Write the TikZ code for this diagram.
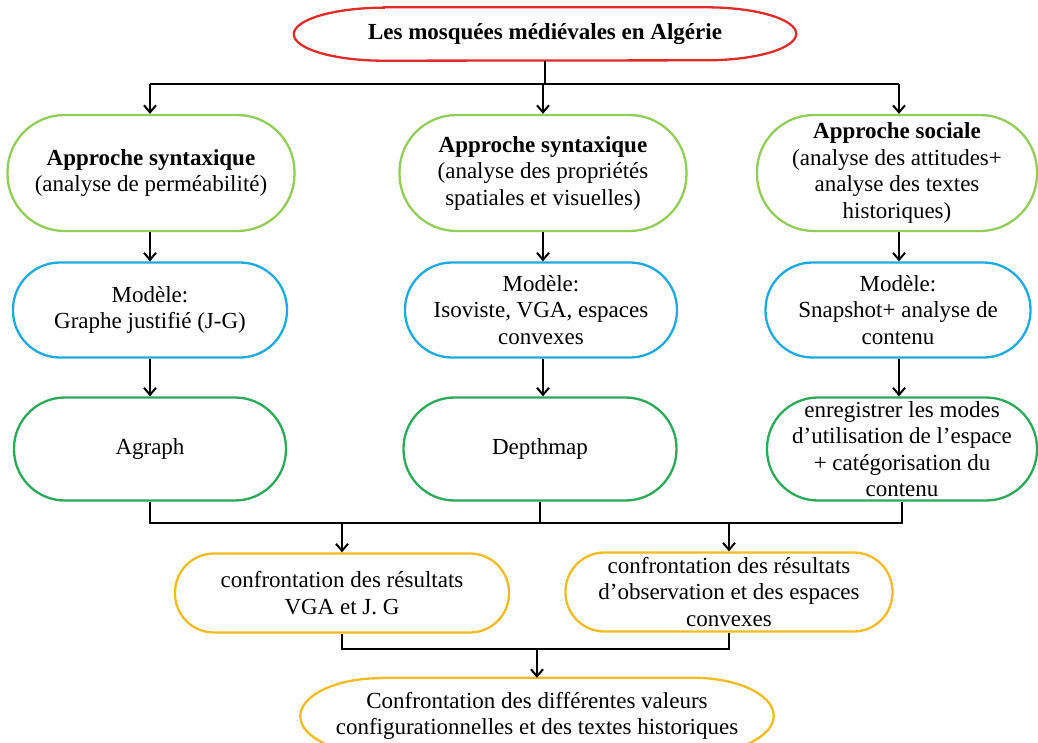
\documentclass[tikz,border=0pt]{standalone}
\usepackage{fontspec}
\setmainfont{Liberation Serif}
\usetikzlibrary{arrows.meta}
\definecolor{cred}{HTML}{E02B2B}
\definecolor{clgreen}{HTML}{92CC5A}
\definecolor{cblue}{HTML}{1FA9E1}
\definecolor{cdgreen}{HTML}{2BA858}
\definecolor{cgold}{HTML}{F2BB22}
\begin{document}
\begin{tikzpicture}[x=1pt,y=-1pt,
  txt/.style={align=center, inner sep=0pt, font=\fontsize{23}{26.5}\selectfont},
  box/.style={txt, draw, line width=2.3pt, rounded corners=#1},
  apbox/.style={box=57pt, draw=clgreen, minimum height=116pt},
  modbox/.style={box=47pt, draw=cblue, minimum height=95pt},
  toolbox/.style={box=51pt, draw=cdgreen, minimum height=103pt},
  resbox/.style={box=39pt, draw=cgold, minimum height=79pt},
  ovalline/.style={line width=2.3pt},
  link/.style={line width=2pt},
  arr/.style={line width=2pt, -{Straight Barb[length=7pt,width=12pt,line width=2pt]}}
]
\useasboundingbox (0,0) rectangle (1038,742);

% column axes
\coordinate (x1) at (150,0);
\coordinate (x2) at (543,0);
\coordinate (x3) at (899,0);

% title, framed by an oval with elliptic ends
\node[txt, minimum width=502pt, minimum height=53pt] (top) at (545,34) {\bfseries Les mosquées médiévales en Algérie};
\draw[ovalline, draw=cred] ([xshift=90pt]top.north west) -- ([xshift=-90pt]top.north east)
  arc[start angle=90, end angle=-90, x radius=90pt, y radius=26.5pt]
  -- ([xshift=90pt]top.south west)
  arc[start angle=270, end angle=90, x radius=90pt, y radius=26.5pt] -- cycle;

% approaches
\node[apbox, minimum width=287pt] (a1) at (151,173) {\textbf{Approche syntaxique}\\(analyse de perméabilité)};
\node[apbox, minimum width=287pt] (a2) at (543,173) {\textbf{Approche syntaxique}\\(analyse des propriétés\\spatiales et visuelles)};
\node[apbox, minimum width=280pt] (a3) at (897,173) {\textbf{Approche sociale}\\(analyse des attitudes+\\analyse des textes\\historiques)};

% models
\node[modbox, minimum width=274pt] (m1) at (150,310) {Modèle:\\Graphe justifié (J-G)};
\node[modbox, minimum width=272pt] (m2) at (541,310) {Modèle:\\Isoviste, VGA, espaces\\convexes};
\node[modbox, minimum width=265pt] (m3) at (898,310) {Modèle:\\Snapshot+ analyse de\\contenu};

% tools
\node[toolbox, minimum width=272pt] (t1) at (150,449) {Agraph};
\node[toolbox, minimum width=273pt] (t2) at (540,449) {Depthmap};
\node[toolbox, minimum width=270pt] (t3) at (902,449) {enregistrer les modes\\d’utilisation de l’espace\\+ catégorisation du\\contenu};

% comparisons
\node[resbox, minimum width=334pt] (c1) at (342,593) {confrontation des résultats\\VGA et J. G};
\node[resbox, minimum width=327pt] (c2) at (729,592) {confrontation des résultats\\d’observation et des espaces\\convexes};

% synthesis, same elliptic-ended frame as the title
\node[txt, minimum width=473pt, minimum height=76pt] (fin) at (537,716) {Confrontation des différentes valeurs\\configurationnelles et des textes historiques};
\draw[ovalline, draw=cgold] ([xshift=80pt]fin.north west) -- ([xshift=-80pt]fin.north east)
  arc[start angle=90, end angle=-90, x radius=80pt, y radius=38pt]
  -- ([xshift=80pt]fin.south west)
  arc[start angle=270, end angle=90, x radius=80pt, y radius=38pt] -- cycle;

% bus below the title
\coordinate (b1) at (545,84);
\draw[link] (top.south) -- (b1);
\draw[link] (x1 |- b1) -- (x3 |- b1);
\draw[arr] (x1 |- b1) -- (x1 |- a1.north);
\draw[arr] (x2 |- b1) -- (x2 |- a2.north);
\draw[arr] (x3 |- b1) -- (x3 |- a3.north);

% approach -> model -> tool
\draw[arr] (x1 |- a1.south) -- (x1 |- m1.north);
\draw[arr] (x2 |- a2.south) -- (x2 |- m2.north);
\draw[arr] (x3 |- a3.south) -- (x3 |- m3.north);
\draw[arr] (x1 |- m1.south) -- (x1 |- t1.north);
\draw[arr] (x2 |- m2.south) -- (x2 |- t2.north);
\draw[arr] (x3 |- m3.south) -- (x3 |- t3.north);

% bus below the tools
\coordinate (b2) at (0,523);
\draw[link] (t1.south) -- (t1 |- b2) -- (t3 |- b2) -- (t3.south);
\draw[link] (t2.south) -- (t2 |- b2);
\draw[arr] (c1 |- b2) -- (c1.north);
\draw[arr] (c2 |- b2) -- (c2.north);

% bus below the comparisons
\coordinate (b3) at (0,649);
\draw[link] (c1.south) -- (c1 |- b3) -- (c2 |- b3) -- (c2.south);
\draw[arr] (fin |- b3) -- (fin.north);
\end{tikzpicture}
\end{document}
